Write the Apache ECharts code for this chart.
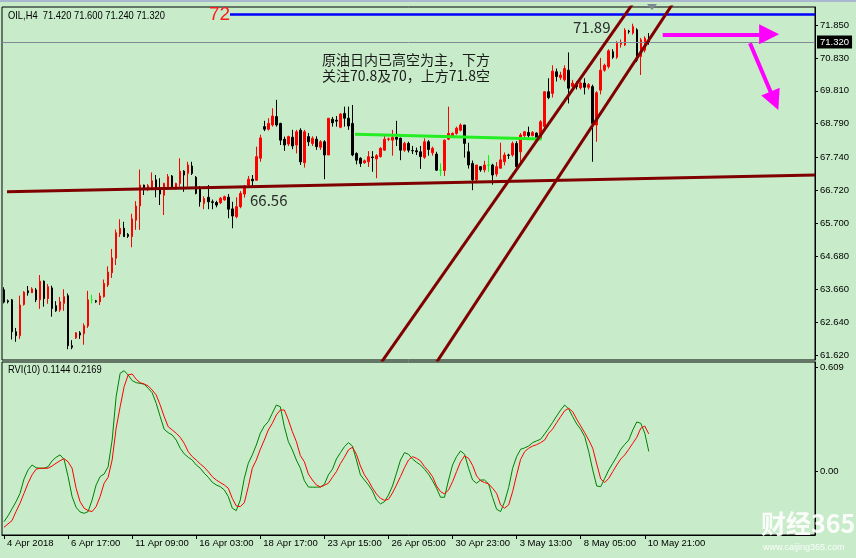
<!DOCTYPE html>
<html><head><meta charset="utf-8">
<script src="https://cdn.jsdelivr.net/npm/echarts@6/dist/echarts.min.js"></script>
<style>html,body{margin:0;padding:0;background:#c8ecca}#c{width:856px;height:558px}</style>
</head><body><div id="c"></div>
<script>
// ---------- data ----------
const categoryCount = 203;
const tickIndex = [0,16,32,48,64,80,96,112,128,144,160];
const tickLabels = ['4 Apr 2018','6 Apr 17:00','11 Apr 09:00','16 Apr 03:00','18 Apr 17:00','23 Apr 15:00','26 Apr 05:00','30 Apr 23:00','3 May 13:00','8 May 05:00','10 May 21:00'];

const opens = [63.64,63.30,63.33,62.34,62.22,63.19,63.61,63.55,63.64,63.33,
63.91,63.37,63.70,63.15,63.02,63.22,63.46,61.91,62.15,62.31,
62.28,62.52,63.33,63.30,63.27,63.43,63.79,64.17,64.62,65.37,
65.55,65.36,65.29,65.80,66.24,66.89,66.76,66.79,67.05,66.76,
66.57,66.84,67.17,66.79,66.94,67.32,67.25,67.48,67.13,66.79,
66.32,66.51,66.37,66.35,66.34,66.43,66.51,66.15,65.91,66.22,
66.61,66.89,67.07,67.04,67.72,68.70,68.62,68.75,69.01,68.80,
68.31,68.16,68.37,68.13,68.59,67.58,68.39,68.18,68.31,68.06,
68.23,67.82,68.93,68.90,68.68,69.11,68.96,68.80,67.87,67.72,
67.58,67.61,67.76,67.70,67.77,67.97,68.31,68.28,68.37,68.34,
67.97,68.18,67.96,67.95,67.92,67.75,68.23,67.89,67.85,67.35,
67.34,68.31,68.41,68.49,68.59,68.75,67.92,67.56,67.05,67.46,
67.36,67.51,67.51,67.23,67.41,67.61,67.82,67.82,68.18,67.92,
68.42,68.52,68.42,68.50,68.34,68.70,69.78,69.73,70.40,70.22,
70.15,70.45,69.95,70.00,69.90,70.05,69.92,69.94,68.75,69.83,
70.45,70.56,71.02,70.85,71.25,71.23,71.66,71.60,71.70,70.87,
71.07,71.42];
const closes = [63.26,63.27,62.34,62.22,63.17,63.57,63.55,63.67,63.33,63.91,
63.37,63.74,63.06,62.99,63.27,63.43,61.91,61.86,62.31,62.24,
62.53,63.33,63.33,63.27,63.45,63.84,64.19,64.63,65.41,65.55,
65.29,65.30,65.84,66.24,66.89,66.80,66.87,67.02,66.79,66.61,
66.94,67.15,66.84,66.94,67.32,67.20,67.51,67.25,66.63,66.37,
66.47,66.37,66.35,66.27,66.48,66.53,66.14,65.93,66.22,66.63,
66.81,67.07,67.02,67.77,68.35,68.62,68.80,69.03,68.75,68.28,
68.13,68.39,68.10,68.54,67.61,68.54,68.23,68.34,68.08,68.23,
67.82,68.96,68.82,68.87,69.09,68.96,68.72,67.82,67.66,67.56,
67.64,67.77,67.74,67.80,68.03,68.31,68.32,68.37,68.31,67.97,
68.18,67.97,67.95,67.92,67.77,68.23,67.99,68.03,67.35,67.35,
68.28,68.49,68.49,68.65,68.75,68.18,67.51,67.05,67.51,67.36,
67.51,67.51,67.20,67.46,67.67,67.82,67.81,68.18,67.46,68.44,
68.54,68.42,68.52,68.28,68.85,69.78,69.60,70.42,70.25,70.30,
70.50,69.89,70.05,69.94,70.05,69.92,70.00,68.80,69.75,70.45,
70.60,71.05,70.85,71.28,71.30,71.69,71.64,71.80,70.76,71.39,
71.44,71.32];
const lows = [63.22,63.22,62.10,62.03,62.12,63.15,63.46,63.55,63.26,63.05,
63.12,63.21,62.81,62.96,62.96,62.99,61.80,61.80,62.12,62.12,
61.94,62.46,63.22,63.24,63.17,63.40,63.73,64.01,64.41,65.28,
65.29,65.25,64.96,65.50,65.50,66.58,66.70,66.75,66.51,66.27,
65.96,66.79,66.80,66.75,66.84,66.68,66.84,67.20,66.60,66.22,
66.14,66.14,66.14,66.20,66.30,66.40,65.86,65.55,65.86,66.17,
66.50,66.81,66.80,67.02,67.61,68.56,68.58,68.70,68.70,68.13,
67.95,68.10,68.00,67.87,67.51,67.43,68.10,68.10,67.98,67.98,
67.07,67.82,68.70,68.70,68.65,68.70,68.60,67.78,67.53,67.45,
67.55,67.45,67.30,67.10,67.74,67.95,68.25,67.80,68.10,67.66,
67.92,67.90,67.85,67.82,67.39,67.70,67.80,67.80,67.33,67.17,
67.17,68.28,68.36,68.45,68.55,67.74,67.40,66.73,67.00,67.30,
67.28,67.30,66.90,67.15,67.41,67.50,67.70,67.77,67.40,67.60,
68.38,68.36,68.40,68.20,68.30,68.65,69.55,69.60,70.10,70.15,
70.10,69.42,69.80,69.85,69.85,69.70,69.85,67.61,68.23,69.70,
70.40,70.50,70.80,70.80,71.15,71.20,71.58,71.55,70.70,70.30,
71.00,71.24];
const highs = [63.72,63.34,63.36,62.46,63.46,63.60,63.76,63.72,63.70,64.10,
63.93,63.82,63.77,63.29,63.42,63.66,63.53,62.08,62.33,62.36,
62.60,63.61,63.49,63.33,63.55,63.96,64.37,64.91,65.51,65.83,
65.75,65.40,66.00,66.39,67.37,66.90,66.92,67.28,67.20,67.10,
66.96,67.23,67.20,66.96,67.72,67.35,67.61,67.61,67.17,66.86,
66.54,66.89,66.44,66.40,66.52,66.56,66.61,66.37,66.51,66.70,
66.89,67.17,67.20,68.08,68.45,68.88,68.96,69.27,69.53,68.82,
68.39,68.42,68.60,68.60,68.65,68.60,68.50,68.40,68.40,68.28,
68.28,68.96,69.00,69.03,69.12,69.32,69.32,69.37,67.90,67.75,
67.68,67.94,67.94,67.85,68.06,68.44,68.36,68.60,68.88,68.36,
68.23,68.23,68.10,68.05,68.10,68.34,68.28,68.08,67.92,67.56,
68.30,69.32,68.52,68.70,68.80,68.75,68.20,67.65,67.51,67.48,
67.64,67.82,67.55,67.60,68.20,67.90,67.86,68.24,68.25,68.50,
68.56,68.70,68.56,68.52,68.90,69.80,70.20,70.60,70.50,70.40,
70.60,71.00,70.15,70.10,70.10,70.20,70.05,70.00,69.80,70.83,
70.65,71.10,71.10,71.35,71.40,71.75,71.70,71.89,71.75,71.45,
71.50,71.60];

const rviMain = [-0.297,-0.263,-0.222,-0.180,-0.131,-0.047,0.006,0.035,0.019,0.016,
0.016,0.025,0.059,0.080,0.094,0.068,-0.033,-0.150,-0.213,-0.240,
-0.248,-0.238,-0.170,-0.082,-0.033,-0.018,0.025,0.181,0.435,0.572,
0.587,0.562,0.529,0.517,0.513,0.508,0.484,0.458,0.396,0.318,
0.244,0.224,0.211,0.181,0.133,0.100,0.080,0.064,0.035,0.016,
-0.013,-0.037,-0.066,-0.082,-0.092,-0.111,-0.150,-0.218,-0.232,-0.170,
-0.043,0.045,0.094,0.152,0.221,0.263,0.289,0.338,0.386,0.376,
0.259,0.172,0.123,0.064,0.016,-0.057,-0.094,-0.095,-0.095,-0.094,
-0.078,-0.023,0.010,0.070,0.107,0.142,0.166,0.146,0.064,-0.023,
-0.053,-0.082,-0.117,-0.170,-0.193,-0.180,-0.141,-0.088,-0.013,0.064,
0.107,0.098,0.070,0.051,0.035,0.010,-0.019,-0.057,-0.101,-0.154,
-0.154,-0.053,0.035,0.084,0.117,0.098,0.016,-0.053,-0.072,-0.053,
-0.053,-0.076,-0.156,-0.224,-0.238,-0.180,-0.098,0.016,0.084,0.127,
0.135,0.146,0.166,0.176,0.186,0.217,0.250,0.285,0.322,0.357,
0.386,0.363,0.318,0.275,0.244,0.201,0.113,0.006,-0.088,-0.092,
-0.043,0.006,0.045,0.084,0.127,0.156,0.181,0.240,0.287,0.279,
0.221,0.1144];
const rviSignal = [-0.330,-0.310,-0.291,-0.238,-0.189,-0.131,-0.072,-0.023,0.010,0.016,
0.016,0.016,0.029,0.045,0.060,0.072,0.054,0.016,-0.101,-0.180,
-0.218,-0.232,-0.238,-0.209,-0.150,-0.072,-0.037,0.064,0.250,0.376,
0.494,0.562,0.568,0.537,0.517,0.509,0.498,0.474,0.445,0.386,
0.318,0.259,0.240,0.221,0.197,0.162,0.113,0.084,0.064,0.041,
0.022,-0.004,-0.033,-0.053,-0.068,-0.082,-0.101,-0.160,-0.205,-0.209,
-0.186,-0.092,0.016,0.064,0.127,0.181,0.240,0.279,0.328,0.357,
0.357,0.299,0.230,0.172,0.090,0.054,-0.018,-0.053,-0.082,-0.094,
-0.084,-0.072,-0.037,-0.004,0.043,0.080,0.123,0.139,0.098,0.029,
-0.023,-0.057,-0.100,-0.135,-0.160,-0.172,-0.166,-0.129,-0.082,-0.033,
0.019,0.064,0.084,0.074,0.059,0.025,0.000,-0.033,-0.088,-0.121,
-0.135,-0.111,-0.063,-0.004,0.054,0.088,0.074,0.033,-0.029,-0.057,
-0.068,-0.076,-0.101,-0.131,-0.199,-0.218,-0.199,-0.121,-0.023,0.068,
0.113,0.133,0.146,0.154,0.166,0.181,0.221,0.246,0.283,0.318,
0.353,0.367,0.347,0.303,0.263,0.224,0.181,0.133,0.041,-0.047,
-0.068,-0.043,-0.004,0.035,0.070,0.094,0.127,0.162,0.197,0.250,
0.263,0.2169];

const priceTickLabels = ['61.620','62.640','63.660','64.680','65.700','66.720','67.740','68.790','69.810','70.830','71.850'];
const rviTickLabels = ['0.00','0.609'];
const currentPrice = 71.32;

// drawn objects: [bar index, price]
const resistanceLine = [[56.43,72.175],[202.5,72.175]];
const supportLine = [[0.75,66.68],[202.5,67.20]];
const rangeLine = [[87.64,68.46],[134.26,68.32]];
const channelUpper = [[94.26,61.40],[157.68,72.63]];
const channelLower = [[108.04,61.40],[167.62,72.63]];
const arrowRight = [[164.47,71.562],[191.05,71.562]];
const arrowDown = [[186.27,71.283],[192.36,69.50]];

// ---------- chart ----------
const chart = echarts.init(document.getElementById('c'), null, {renderer:'canvas', width:856, height:558});
const categories = [];
for (let i = 0; i < categoryCount; i++) {
  const k = tickIndex.indexOf(i);
  categories.push(k >= 0 ? tickLabels[k] : String(i));
}
const ohlc = opens.map((o, i) => [o, closes[i], lows[i], highs[i]]);
const uiFont = "'Liberation Sans', Arial, sans-serif";
const cjkFont = "'Noto Sans CJK SC', sans-serif";
const axisFontSize = 9.5;

function overlay(pts, color, width, extra) {
  return Object.assign({
    type: 'line', xAxisIndex: 2, yAxisIndex: 0, data: pts, symbol: 'none',
    silent: true, clip: true, animation: false, z: 5,
    lineStyle: {color: color, width: width}
  }, extra || {});
}

const option = {
  backgroundColor: '#c8ecca',
  animation: false,
  grid: [
    {left: 2, top: 7, width: 813, height: 353, show: true, borderColor: '#000', borderWidth: 1, backgroundColor: 'transparent'},
    {left: 2, top: 362, width: 813, height: 173, show: true, borderColor: '#000', borderWidth: 1, backgroundColor: 'transparent'}
  ],
  xAxis: [
    {type: 'category', gridIndex: 0, data: categories, axisLine: {show: false, onZero: false}, axisTick: {show: false}, axisLabel: {show: false}, splitLine: {show: false}},
    {type: 'category', gridIndex: 1, data: categories,
      axisLine: {show: true, onZero: false, lineStyle: {color: '#000', width: 1}},
      axisTick: {show: true, alignWithLabel: true, length: 4, lineStyle: {color: '#000'}, interval: (idx) => tickIndex.indexOf(idx) >= 0},
      axisLabel: {show: true, interval: (idx) => tickIndex.indexOf(idx) >= 0, align: 'left', margin: 3, padding: [0,0,0,3],
        color: '#000', fontSize: axisFontSize, fontFamily: uiFont, hideOverlap: false,
        formatter: (v, idx) => (tickIndex.indexOf(idx) >= 0 ? v : '')},
      splitLine: {show: false}},
    {type: 'value', gridIndex: 0, min: -0.5, max: categoryCount - 0.5, show: false, axisLine: {onZero: false}}
  ],
  yAxis: [
    {type: 'value', gridIndex: 0, position: 'right', min: 61.466, max: 72.408, scale: true,
      axisLine: {show: true, onZero: false, lineStyle: {color: '#000'}},
      axisTick: {show: true, length: 3, lineStyle: {color: '#000'}, customValues: priceTickLabels.map(Number)},
      axisLabel: {show: true, margin: 5, color: '#000', fontSize: axisFontSize, fontFamily: uiFont,
        customValues: priceTickLabels.map(Number),
        formatter: (v) => priceTickLabels[priceTickLabels.map(Number).indexOf(v)] || v.toFixed(3)},
      splitLine: {show: false}},
    {type: 'value', gridIndex: 1, position: 'right', min: -0.375, max: 0.638,
      axisLine: {show: true, onZero: false, lineStyle: {color: '#000'}},
      axisTick: {show: true, length: 3, lineStyle: {color: '#000'}, customValues: rviTickLabels.map(Number)},
      axisLabel: {show: true, margin: 5, color: '#000', fontSize: axisFontSize, fontFamily: uiFont,
        customValues: rviTickLabels.map(Number),
        formatter: (v) => rviTickLabels[rviTickLabels.map(Number).indexOf(v)] || String(v)},
      splitLine: {show: false}}
  ],
  series: [
    {type: 'candlestick', xAxisIndex: 0, yAxisIndex: 0, data: ohlc, barWidth: 2, z: 3,
      itemStyle: {color: '#ff0000', color0: '#000000', borderColor: '#ff0000', borderColor0: '#000000', borderColorDoji: '#00ff00', borderWidth: 1},
      markLine: {silent: true, symbol: ['none','none'], animation: false,
        lineStyle: {color: '#7f8a96', width: 1, type: 'solid'},
        label: {show: true, position: 'end', distance: 2, formatter: () => currentPrice.toFixed(3), color: '#fff', backgroundColor: '#000', padding: [2,3,1,3], fontSize: axisFontSize, fontFamily: uiFont},
        data: [{yAxis: currentPrice}]}
    },
    overlay(resistanceLine, '#0000ff', 2.5),
    overlay(supportLine, '#800000', 3),
    overlay(rangeLine, '#22ee22', 3),
    overlay(channelUpper, '#800000', 3),
    overlay(channelLower, '#800000', 3, {
      markLine: {silent: true, animation: false, symbol: ['none','triangle'], symbolSize: [20,20],
        lineStyle: {color: '#ff00ff', width: 4, type: 'solid'}, label: {show: false},
        data: [
          [{coord: arrowRight[0]}, {coord: arrowRight[1]}],
          [{coord: arrowDown[0]}, {coord: arrowDown[1]}]
        ]}
    }),
    {type: 'line', xAxisIndex: 1, yAxisIndex: 1, data: rviMain, symbol: 'none', lineStyle: {color: '#008000', width: 1}, silent: true},
    {type: 'line', xAxisIndex: 1, yAxisIndex: 1, data: rviSignal, symbol: 'none', lineStyle: {color: '#ff0000', width: 1}, silent: true}
  ],
  graphic: [
    {type: 'rect', left: 0, top: 0, shape: {width: 856, height: 2}, style: {fill: '#a9b8cf'}, silent: true},
    {type: 'text', x: 8, y: 10, scaleX: 0.85, style: {text: 'OIL,H4  71.420 71.600 71.240 71.320', font: '11px ' + uiFont, fill: '#000'}},
    {type: 'text', x: 8, y: 364, scaleX: 0.85, style: {text: 'RVI(10) 0.1144 0.2169', font: '11px ' + uiFont, fill: '#000'}},
    {type: 'text', left: 209, top: 5, style: {text: '72', font: '19px ' + uiFont, fill: '#ff1a1a'}},
    {type: 'text', left: 573, top: 20, style: {text: '71.89', font: '15px ' + cjkFont, fill: '#2a2a2a'}},
    {type: 'text', left: 250, top: 193, style: {text: '66.56', font: '15px ' + cjkFont, fill: '#2a2a2a'}},
    {type: 'text', left: 322, top: 53, style: {text: '原油日内已高空为主，下方', font: '14px ' + cjkFont, fill: '#1a1a1a'}},
    {type: 'text', left: 322, top: 69, style: {text: '关注70.8及70，上方71.8空', font: '14px ' + cjkFont, fill: '#1a1a1a'}},
    {type: 'polygon', shape: {points: [[647,4],[657,4],[652,10]]}, style: {fill: '#7d8790'}, silent: true},
    {type: 'text', left: 761, top: 511, z: 100, style: {text: '财经365', font: 'bold 25px ' + cjkFont, fill: 'rgba(255,255,255,0.9)'}},
    {type: 'text', left: 763, top: 543, z: 100, style: {text: 'www.caijing365.com', font: '9px ' + uiFont, fill: 'rgba(255,255,255,0.9)'}}
  ]
};
chart.setOption(option);
</script>
</body></html>
